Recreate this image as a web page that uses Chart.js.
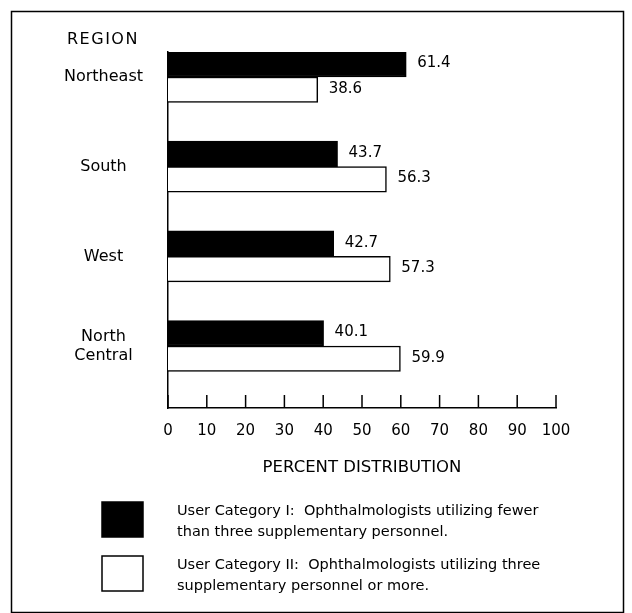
<!DOCTYPE html>
<html>
<head>
<meta charset="utf-8">
<script src="https://cdn.jsdelivr.net/npm/chart.js@4/dist/chart.umd.min.js"></script>
<style>
html, body { margin: 0; padding: 0; background: #fff; }
#wrap { width: 632px; height: 613px; }
</style>
</head>
<body>
<div id="wrap"><canvas id="c" width="632" height="613"></canvas></div>
<script>
// ---- data ----
const regions = [['Northeast'], ['South'], ['West'], ['North', 'Central']];
const categoryI = [61.4, 43.7, 42.7, 40.1];
const categoryII = [38.6, 56.3, 57.3, 59.9];
const xTickValues = [0, 10, 20, 30, 40, 50, 60, 70, 80, 90, 100];
const seriesNames = [
  ['User Category I:  Ophthalmologists utilizing fewer', 'than three supplementary personnel.'],
  ['User Category II:  Ophthalmologists utilizing three', 'supplementary personnel or more.']
];
const xAxisTitle = 'PERCENT DISTRIBUTION';
const yAxisTitle = 'REGION';

const FONT = 'DejaVu Sans';

const framePlugin = {
  id: 'frame',
  beforeDraw(chart) {
    const ctx = chart.ctx;
    ctx.save();
    ctx.fillStyle = '#fff';
    ctx.fillRect(0, 0, chart.width, chart.height);
    ctx.strokeStyle = '#000';
    ctx.lineWidth = 1.5;
    ctx.strokeRect(11.5, 11.5, 612, 601);
    ctx.restore();
  }
};

const decorPlugin = {
  id: 'decor',
  afterDraw(chart) {
    const ctx = chart.ctx;
    const xs = chart.scales.x;
    const ys = chart.scales.y;
    ctx.save();
    // upward tick marks on the x axis
    ctx.strokeStyle = '#000';
    ctx.lineWidth = 1.5;
    xs.ticks.forEach(t => {
      const px = xs.getPixelForValue(t.value);
      ctx.beginPath();
      ctx.moveTo(px, xs.top);
      ctx.lineTo(px, xs.top - 13);
      ctx.stroke();
    });
    // value labels
    ctx.fillStyle = '#000';
    ctx.font = '15px "' + FONT + '"';
    ctx.textAlign = 'left';
    ctx.textBaseline = 'middle';
    chart.data.datasets.forEach((ds, di) => {
      const meta = chart.getDatasetMeta(di);
      meta.data.forEach((bar, i) => {
        ctx.fillText(ds.data[i].toFixed(1), bar.x + 11, bar.y - 1);
      });
    });
    // REGION heading over the category labels
    ctx.font = '16px "' + FONT + '"';
    ctx.textAlign = 'left';
    try { ctx.letterSpacing = '1.5px'; } catch (e) {}
    ctx.fillText(yAxisTitle, ys.right - 101, 40);
    try { ctx.letterSpacing = '0px'; } catch (e) {}
    // legend
    const boxX = 102, boxW = 41, boxH = 35;
    const boxYs = [502, 556];
    ctx.font = '14.5px "' + FONT + '"';
    ctx.textAlign = 'left';
    chart.data.datasets.forEach((ds, di) => {
      const by = boxYs[di];
      ctx.fillStyle = ds.backgroundColor;
      ctx.fillRect(boxX, by, boxW, boxH);
      ctx.strokeStyle = '#000';
      ctx.lineWidth = 1.5;
      ctx.strokeRect(boxX, by, boxW, boxH);
      ctx.fillStyle = '#000';
      seriesNames[di].forEach((line, li) => {
        ctx.fillText(line, 177, by + 9 + li * 21);
      });
    });
    ctx.restore();
  }
};

new Chart(document.getElementById('c'), {
  type: 'bar',
  data: {
    labels: regions,
    datasets: [
      { label: seriesNames[0].join(' '), data: categoryI, backgroundColor: '#000000', borderColor: '#000000', borderWidth: 1.5, barThickness: 25.5 },
      { label: seriesNames[1].join(' '), data: categoryII, backgroundColor: '#ffffff', borderColor: '#000000', borderWidth: 1.5, barThickness: 25.5 }
    ]
  },
  options: {
    indexAxis: 'y',
    responsive: false,
    animation: false,
    devicePixelRatio: 1,
    layout: { padding: { left: 20, right: 76, top: 52, bottom: 125 } },
    plugins: { legend: { display: false }, tooltip: { enabled: false }, title: { display: false } },
    scales: {
      x: {
        type: 'linear',
        min: 0,
        max: 100,
        afterBuildTicks: s => { s.ticks = xTickValues.map(v => ({ value: v })); },
        grid: { display: false, drawTicks: false },
        border: { display: true, color: '#000', width: 1.5 },
        ticks: { color: '#000', font: { family: FONT, size: 15 }, padding: 14, maxRotation: 0, autoSkip: false },
        title: { display: true, text: xAxisTitle, color: '#000', font: { family: FONT, size: 16.5 }, padding: { top: 10, bottom: 10 } },
        afterFit: s => { s.height = 80; }
      },
      y: {
        type: 'category',
        offset: true,
        grid: { display: false, drawTicks: false },
        border: { display: true, color: '#000', width: 1.5 },
        ticks: { color: '#000', font: { family: FONT, size: 16 }, crossAlign: 'center', padding: 25, autoSkip: false },
        afterBuildTicks: s => { s._startValue = -0.279; s._valueRange = 3.97; },
        afterFit: s => { s.width = 148; }
      }
    }
  },
  plugins: [framePlugin, decorPlugin]
});
</script>
</body>
</html>
